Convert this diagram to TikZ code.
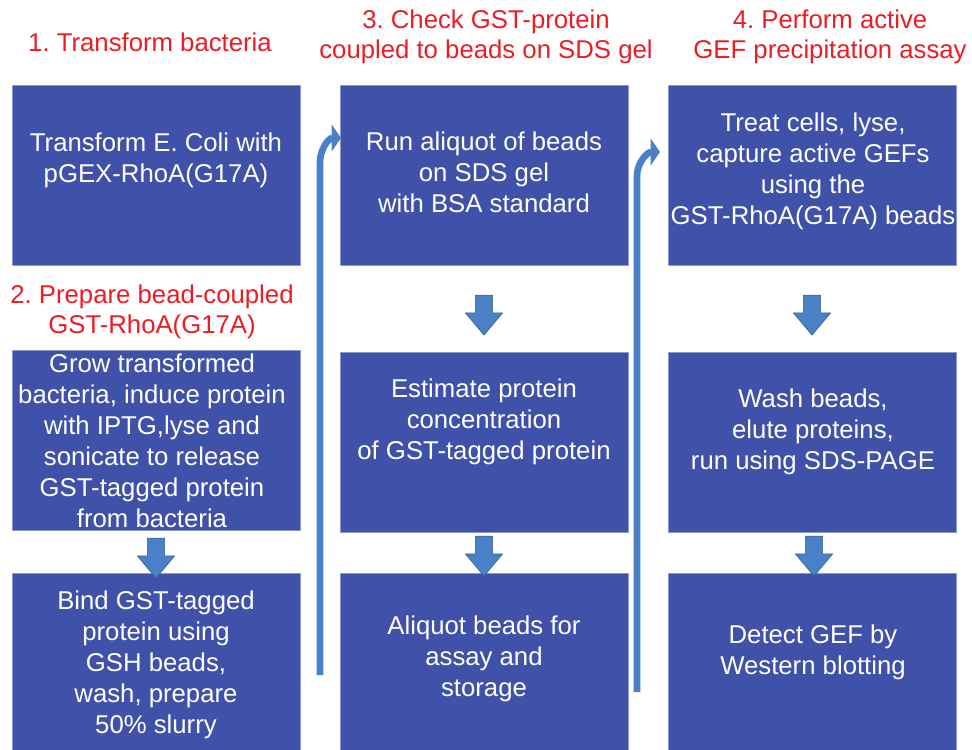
\documentclass[tikz,border=0pt]{standalone}
\usepackage{fontspec}
\setmainfont{Liberation Sans}
\frenchspacing
\usetikzlibrary{shapes.arrows,arrows.meta}
\definecolor{boxblue}{HTML}{3F51A8}
\definecolor{arrowblue}{HTML}{4A80C6}
\definecolor{arrowline}{HTML}{2C5A96}
\definecolor{titlered}{HTML}{EC1C24}

\begin{document}
\begin{tikzpicture}[x=0.75pt, y=-0.75pt]
\tikzstyle{box_style} = [rectangle, fill=boxblue, draw=boxblue!60!white, thin, minimum width=216pt, minimum height=135pt, inner sep=0pt, anchor=north west]
\tikzstyle{text_style} = [text=white, align=center, font=\fontsize{19.3}{23.3}\selectfont]
\tikzstyle{title_style} = [text=titlered, align=center, font=\fontsize{19.3}{22.5}\selectfont]
\tikzstyle{down_style} = [single arrow, shape border rotate=270, fill=arrowblue, draw=arrowline, thin, inner sep=6.3pt, minimum height=30pt, single arrow head extend=7.5pt, single arrow tip angle=80]
\tikzstyle{up_style} = [draw=arrowblue, line width=5pt, -{Triangle[length=7pt,width=20pt]}]

\useasboundingbox (0,0) rectangle (972,750);

% boxes
\node[box_style] (b11) at (12,85) {};
\node[box_style] (b12) at (12,350) {};
\node[box_style] (b13) at (12,573) {};
\node[box_style] (b21) at (340,85) {};
\node[box_style] (b22) at (340,352) {};
\node[box_style] (b23) at (340,573) {};
\node[box_style] (b31) at (668,85) {};
\node[box_style] (b32) at (668,352) {};
\node[box_style] (b33) at (668,573) {};

% titles
\node[title_style] (ti1) at (150,42) {1. Transform bacteria};
\node[title_style] (ti2) at (152,312) {2. Prepare bead-coupled\\GST-RhoA(G17A)};
\node[title_style] (ti3) at (486,37) {3. Check GST-protein\\coupled to beads on SDS gel};
\node[title_style] (ti4) at (830,37) {4. Perform active\\GEF precipitation assay};

% box texts
\node[text_style] (t11) at (156,160) {Transform E. Coli with\\pGEX-RhoA(G17A)};
\node[text_style] (t12) at (152,441) {Grow transformed\\bacteria, induce protein\\with IPTG,lyse and\\sonicate to release\\GST-tagged protein\\from bacteria};
\node[text_style] (t13) at (156,665) {Bind GST-tagged\\protein using\\GSH beads,\\wash, prepare\\50\% slurry};
\node[text_style] (t21) at (484,172) {Run aliquot of beads\\on SDS gel\\with BSA standard};
\node[text_style] (t22) at (484,422) {Estimate protein\\concentration\\of GST-tagged protein};
\node[text_style] (t23) at (484,659) {Aliquot beads for\\assay and\\storage};
\node[text_style] (t31) at (813,171) {Treat cells, lyse,\\capture active GEFs\\using the\\GST-RhoA(G17A) beads};
\node[text_style] (t32) at (813,432) {Wash beads,\\elute proteins,\\run using SDS-PAGE};
\node[text_style] (t33) at (813,652) {Detect GEF by\\Western blotting};

% down arrows
\node[down_style] (a1) at (156,553) {};
\node[down_style] (a2) at (484,310) {};
\node[down_style] (a3) at (484,551) {};
\node[down_style] (a4) at (812,310) {};
\node[down_style] (a5) at (814,551) {};

% turn arrows between columns
\coordinate (c1) at (320,675);
\coordinate (e1) at (341,138);
\coordinate (c2) at (637,692);
\coordinate (e2) at (660,152);
\draw[up_style] (c1) -- (320,162) to[out=90,in=180] (e1);
\draw[up_style] (c2) -- (637,176) to[out=90,in=180] (e2);
\end{tikzpicture}
\end{document}
